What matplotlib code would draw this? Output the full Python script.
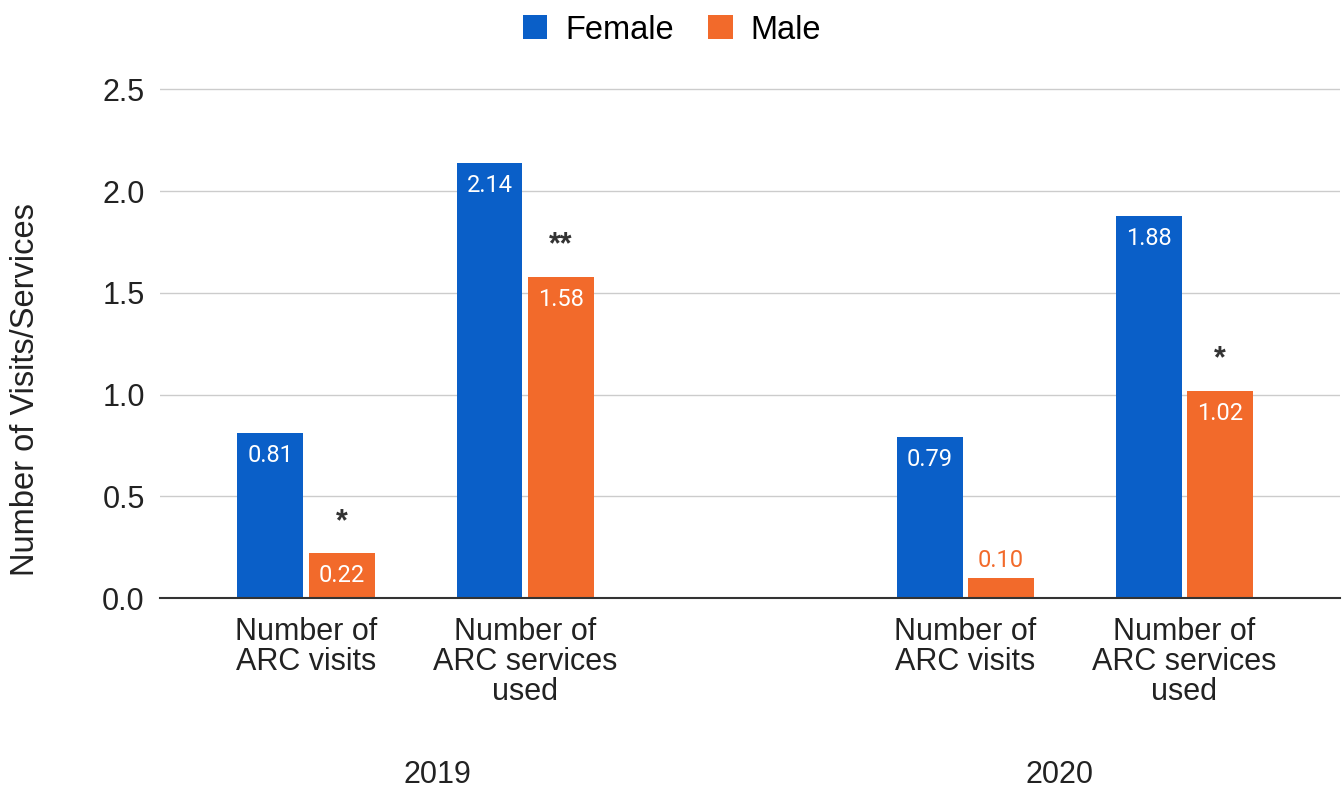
import numpy as np
import matplotlib.pyplot as plt
from matplotlib.transforms import blended_transform_factory

# data
categories = ['Number of\nARC visits', 'Number of\nARC services\nused',
              'Number of\nARC visits', 'Number of\nARC services\nused']
years = ['2019', '2020']
female = [0.81, 2.14, 0.79, 1.88]
male = [0.22, 1.58, 0.10, 1.02]
male_sig = ['*', '**', '', '*']

blue = '#0a5fc8'
orange = '#f26a2b'

plt.rcParams['font.family'] = ['Liberation Sans', 'DejaVu Sans']

fig = plt.figure(figsize=(13.44, 7.9), dpi=100)
ax = fig.add_axes([0.119, 0.243, 0.878, 0.649])

x = np.array([0, 1, 3.01, 4.01])
w = 0.30
off = 0.163

b1 = ax.bar(x - off, female, w, color=blue, label='Female', zorder=3)
b2 = ax.bar(x + off, male, w, color=orange, label='Male', zorder=3)

# value labels
for xi, v in zip(x - off, female):
    ax.text(xi, v - 0.055, f'{v:.2f}', ha='center', va='top', color='white',
            fontsize=17, family='Roboto', zorder=4)
for xi, v, s in zip(x + off, male, male_sig):
    if v < 0.15:
        ax.text(xi, v + 0.03, f'{v:.2f}', ha='center', va='bottom', color=orange,
                fontsize=17, family='Roboto', zorder=4)
    else:
        ax.text(xi, v - 0.055, f'{v:.2f}', ha='center', va='top', color='white',
                fontsize=17, family='Roboto', zorder=4)
    if s:
        ax.text(xi, v + 0.08, s, ha='center', va='bottom', color='#333333',
                fontsize=22, fontweight='bold', zorder=4)

ax.set_xlim(-0.667, 4.72)
ax.set_ylim(0, 2.52)
ax.set_yticks([0, 0.5, 1.0, 1.5, 2.0, 2.5])
ax.set_yticklabels(['0.0', '0.5', '1.0', '1.5', '2.0', '2.5'])
ax.tick_params(axis='y', length=0, labelsize=22, pad=11, labelcolor='#222222')
ax.set_xticks(x)
ax.set_xticklabels(categories, fontsize=22, linespacing=1.0, color='#222222')
ax.tick_params(axis='x', length=0, pad=14)

ax.grid(axis='y', color='#cccccc', linewidth=1, zorder=0)
for sp in ['top', 'right', 'left']:
    ax.spines[sp].set_visible(False)
ax.spines['bottom'].set_color('#333333')
ax.spines['bottom'].set_linewidth(1.5)
ax.spines['bottom'].set_zorder(5)

ax.set_ylabel('Number of Visits/Services', fontsize=23.5, color='#222222')
ax.yaxis.set_label_coords(-0.101, 0.406)

# year labels
trans = blended_transform_factory(ax.transData, fig.transFigure)
ax.text(0.6, 0.019, years[0], transform=trans, ha='center', va='center',
        fontsize=22, color='#222222')
ax.text(3.44, 0.019, years[1], transform=trans, ha='center', va='center',
        fontsize=22, color='#222222')

fig.legend(handles=[b1, b2], labels=['Female', 'Male'], loc='center',
           bbox_to_anchor=(0.5, 0.962), ncol=2, frameon=False, fontsize=23.5,
           handlelength=0.75, handleheight=0.75, handletextpad=0.55, columnspacing=1.05)

fig.savefig('out.png', dpi=100)
